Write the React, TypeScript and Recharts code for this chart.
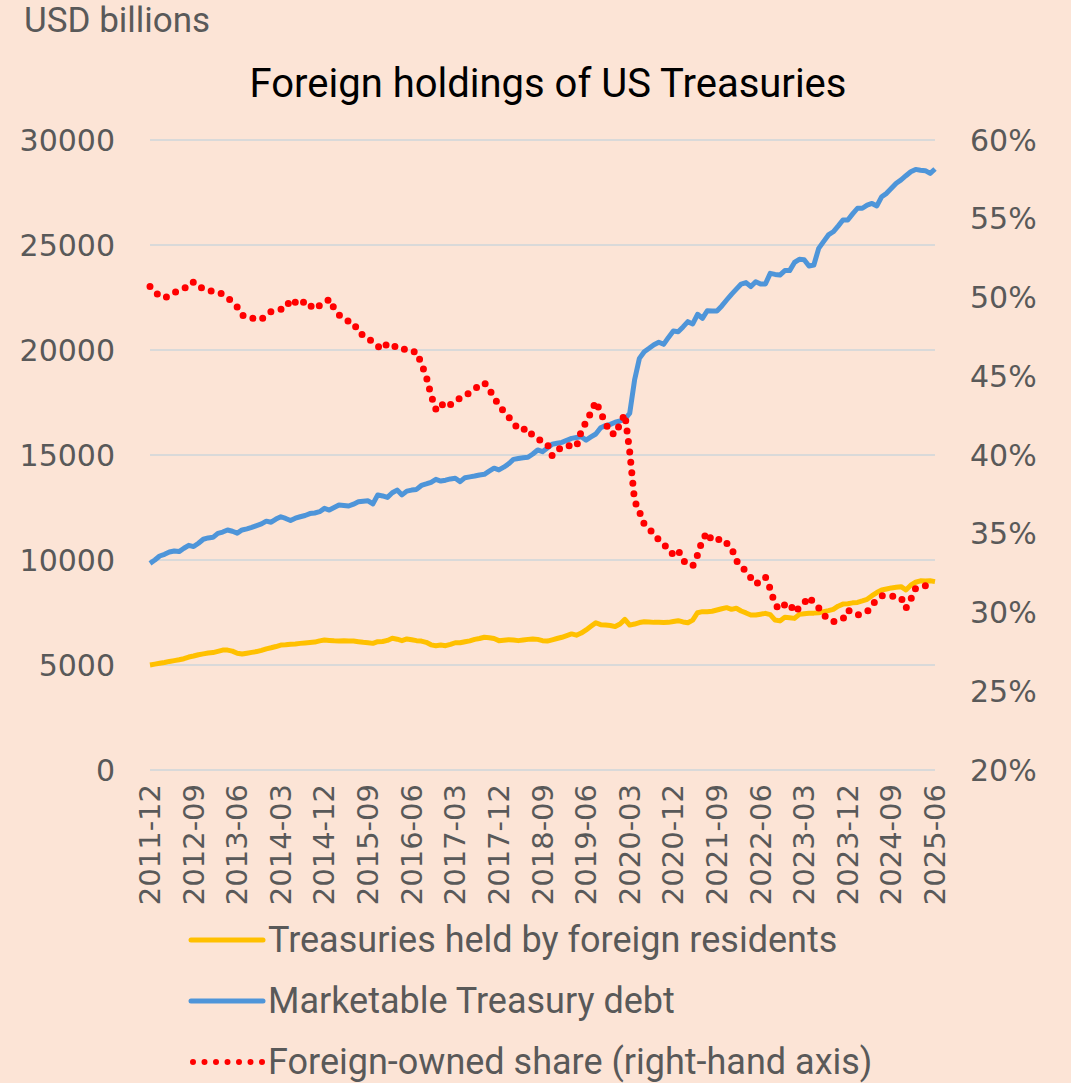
import React from 'react';
import { LineChart, Line, XAxis, YAxis, CartesianGrid, Legend } from 'recharts';

// ---- Data (USD billions, monthly from 2011-12 to 2025-06) ----
const START_YEAR = 2011;
const START_MONTH = 12;

const foreignHeld: number[] = [
  5000,
  5040, 5080, 5120, 5170, 5210, 5250, 5300, 5380, 5430, 5490, 5530, 5570,
  5590, 5650, 5710, 5710, 5660, 5560, 5520, 5560, 5600, 5640, 5700, 5770,
  5820, 5880, 5950, 5960, 5990, 6000, 6030, 6050, 6070, 6090, 6150, 6190,
  6170, 6150, 6140, 6150, 6140, 6140, 6110, 6080, 6060, 6030, 6110, 6120,
  6170, 6270, 6230, 6160, 6240, 6200, 6160, 6140, 6080, 5960, 5920, 5950,
  5920, 5980, 6060, 6060, 6110, 6150, 6220, 6260, 6320, 6300, 6260, 6160,
  6180, 6200, 6190, 6160, 6190, 6220, 6240, 6220, 6160, 6140, 6200, 6260,
  6320, 6400, 6480, 6420, 6520, 6670, 6840, 7010, 6920, 6900, 6880, 6830,
  6950, 7170, 6900, 6950, 7020, 7060, 7050, 7030, 7030, 7020, 7030, 7070,
  7110, 7050, 7010, 7140, 7490, 7540, 7540, 7560, 7620, 7680, 7730, 7650,
  7700, 7570, 7480, 7380, 7380, 7420, 7460, 7400, 7140, 7100, 7270, 7250,
  7220, 7410, 7440, 7460, 7470, 7490, 7540, 7590, 7650, 7800, 7900, 7920,
  7960, 7980, 8050, 8130, 8300, 8450, 8570, 8620, 8670, 8700, 8730, 8570,
  8800, 8940, 9010, 9000, 9010, 8970,
];

const marketableDebt: number[] = [
  9840,
  10000, 10190, 10270, 10380, 10430, 10400, 10560, 10700, 10640, 10800, 10990, 11050,
  11080, 11270, 11330, 11430, 11370, 11280, 11430, 11480, 11550, 11640, 11720, 11850,
  11800, 11950, 12060, 11980, 11880, 11990, 12060, 12120, 12210, 12240, 12300, 12460,
  12380, 12500, 12620, 12600, 12570, 12660, 12770, 12800, 12820, 12670, 13100, 13050,
  12980, 13200, 13330, 13100, 13280, 13330, 13360, 13550, 13620, 13700, 13840, 13760,
  13800, 13860, 13890, 13730, 13920, 13960, 14000, 14050, 14080, 14230, 14370, 14290,
  14420, 14580, 14790, 14830, 14870, 14890, 15050, 15240, 15160, 15330, 15510, 15560,
  15600, 15700, 15790, 15830, 15870, 15710, 15860, 16000, 16300, 16400, 16460, 16560,
  16620, 16700, 16990, 18570, 19600, 19920, 20080, 20250, 20370, 20270, 20600, 20900,
  20870, 21100, 21350, 21240, 21700, 21510, 21870, 21860, 21860, 22100, 22380, 22650,
  22900, 23140, 23210, 23020, 23250, 23140, 23140, 23650, 23600, 23570, 23780, 23780,
  24170, 24320, 24300, 24000, 24050, 24840, 25160, 25480, 25630, 25900, 26190, 26190,
  26480, 26750, 26750, 26900, 26980, 26860, 27300, 27460, 27700, 27940, 28100, 28300,
  28490, 28600, 28560, 28540, 28410, 28620,
];

// Foreign-owned share, percent
const foreignShare: number[] = [
  50.7,
  50.4, 50.05, 50.0, 50.1, 50.3, 50.5, 50.6, 50.65, 51.0, 50.8, 50.5, 50.45,
  50.4, 50.37, 50.2, 50.0, 49.7, 49.4, 48.9, 48.72, 48.7, 48.6, 48.6, 48.9,
  49.1, 49.2, 49.25, 49.3, 49.9, 49.7, 49.5, 49.8, 49.5, 49.25, 49.5, 49.6,
  49.9, 49.3, 48.9, 48.6, 48.5, 48.42, 47.8, 47.6, 47.47, 47.1, 46.9, 46.7,
  47.1, 47.0, 46.8, 46.83, 46.6, 46.54, 46.56, 45.8, 45.0, 43.8, 42.9, 43.3,
  43.0, 43.2, 43.5, 43.6, 43.7, 44.0, 44.2, 44.4, 44.59, 44.2, 43.6, 43.2,
  42.75, 42.4, 42.1, 41.6, 41.62, 41.69, 41.2, 41.0, 40.9, 40.7, 39.96, 40.3,
  40.5, 40.63, 40.55, 40.52, 41.5, 42.1, 42.7, 43.4, 42.7, 42.04, 41.4, 41.3,
  42.0, 42.6, 40.2, 37.1, 36.4, 35.6, 35.3, 35.0, 34.6, 34.4, 33.9, 33.7,
  33.97, 33.3, 33.1, 32.95, 33.65, 34.6, 35.08, 34.54, 34.6, 34.71, 34.4, 34.1,
  33.3, 32.95, 32.6, 32.2, 31.8, 32.0, 32.25, 31.5, 30.5, 30.19, 30.5, 30.6,
  30.0, 30.3, 30.6, 31.0, 30.6, 30.3, 29.85, 29.6, 29.42, 29.5, 29.59, 30.16,
  30.0, 29.84, 29.95, 30.05, 30.5, 30.8, 31.06, 31.05, 31.05, 31.0, 30.95, 30.27,
  30.83, 31.54, 31.6, 31.7, 31.75, 31.8,
];

const tickLabels: string[] = [
  '2011-12', '2012-09', '2013-06', '2014-03', '2014-12', '2015-09', '2016-06',
  '2017-03', '2017-12', '2018-09', '2019-06', '2020-03', '2020-12', '2021-09',
  '2022-06', '2023-03', '2023-12', '2024-09', '2025-06',
];

const leftTicks: number[] = [0, 5000, 10000, 15000, 20000, 25000, 30000];
const rightTicks: number[] = [20, 25, 30, 35, 40, 45, 50, 55, 60];

const seriesNames = {
  held: 'Treasuries held by foreign residents',
  debt: 'Marketable Treasury debt',
  share: 'Foreign-owned share (right-hand axis)',
};

const COLORS = { held: '#FFC000', debt: '#4E95D9', share: '#FF0000' };

const months: string[] = foreignHeld.map((_, i) => {
  const m = START_MONTH - 1 + i;
  const y = START_YEAR + Math.floor(m / 12);
  const mm = (m % 12) + 1;
  return `${y}-${mm < 10 ? '0' + mm : mm}`;
});

const data = months.map((month, i) => ({
  month,
  held: foreignHeld[i],
  debt: marketableDebt[i],
  share: foreignShare[i],
}));

const TEXT_GREY = '#595959';
const TICK_FONT = '"DejaVu Sans", sans-serif';
const LABEL_FONT = 'Roboto, "Open Sans", sans-serif';

const XTick = (props: any) => {
  const { x, y, payload } = props;
  const ty = y + 14;
  return (
    <text
      x={x}
      y={ty}
      transform={`rotate(-90 ${x} ${ty})`}
      textAnchor="end"
      dominantBaseline="central"
      fill={TEXT_GREY}
      fontSize={29}
      fontFamily={TICK_FONT}
    >
      {payload.value}
    </text>
  );
};

const legendItems = [
  { key: 'held', name: seriesNames.held, color: COLORS.held, dotted: false },
  { key: 'debt', name: seriesNames.debt, color: COLORS.debt, dotted: false },
  { key: 'share', name: seriesNames.share, color: COLORS.share, dotted: true },
];

const LegendContent = () => (
  <div style={{ height: 175, paddingLeft: 188, paddingTop: 1, boxSizing: 'border-box' }}>
    {legendItems.map((it) => (
      <div key={it.key} style={{ height: 61, display: 'flex', alignItems: 'center' }}>
        <svg width={78} height={10} style={{ display: 'block' }}>
          {it.dotted ? (
            <line x1={5} y1={5} x2={75} y2={5} stroke={it.color} strokeWidth={6}
              strokeDasharray="0 11.5" strokeLinecap="round" />
          ) : (
            <line x1={3} y1={5} x2={75} y2={5} stroke={it.color} strokeWidth={5}
              strokeLinecap="round" />
          )}
        </svg>
        <span style={{ marginLeft: 2, fontSize: 36, color: TEXT_GREY, fontFamily: LABEL_FONT, lineHeight: '42px' }}>
          {it.name}
        </span>
      </div>
    ))}
  </div>
);

export default function App() {
  return (
    <div style={{ position: 'absolute', left: 0, top: 0, width: 1071, height: 1083, background: '#FCE4D6', overflow: 'hidden' }}>
      <LineChart
        width={1071}
        height={1083}
        data={data}
        margin={{ top: 140, right: 0, left: 0, bottom: 0 }}
      >
        <CartesianGrid yAxisId="left" vertical={false} stroke="#D9D9D9" strokeWidth={2} />
        <XAxis
          dataKey="month"
          ticks={tickLabels}
          interval={0}
          axisLine={false}
          tickLine={false}
          tickSize={0}
          tickMargin={0}
          height={138}
          tick={<XTick />}
        />
        <YAxis
          yAxisId="left"
          orientation="left"
          width={150}
          domain={[0, 30000]}
          ticks={leftTicks}
          axisLine={false}
          tickLine={false}
          tickSize={0}
          tickMargin={35}
          tick={{ fill: TEXT_GREY, fontSize: 30, fontFamily: TICK_FONT }}
        />
        <YAxis
          yAxisId="right"
          orientation="right"
          width={136}
          domain={[20, 60]}
          ticks={rightTicks}
          axisLine={false}
          tickLine={false}
          tickSize={0}
          tickMargin={35}
          tickFormatter={(v: number) => `${v}%`}
          tick={{ fill: TEXT_GREY, fontSize: 30, fontFamily: TICK_FONT, textAnchor: 'start' }}
        />
        <Legend verticalAlign="bottom" layout="horizontal" content={<LegendContent />} />
        <Line yAxisId="left" type="linear" dataKey="held" name={seriesNames.held}
          stroke={COLORS.held} strokeWidth={5} dot={false} isAnimationActive={false} strokeLinejoin="round" />
        <Line yAxisId="left" type="linear" dataKey="debt" name={seriesNames.debt}
          stroke={COLORS.debt} strokeWidth={5} dot={false} isAnimationActive={false} strokeLinejoin="round" />
        <Line yAxisId="right" type="linear" dataKey="share" name={seriesNames.share}
          stroke={COLORS.share} strokeWidth={7} strokeDasharray="0 10.5" strokeLinecap="round"
          dot={false} isAnimationActive={false} />
      </LineChart>
      <svg width={1071} height={130} style={{ position: 'absolute', left: 0, top: 0, pointerEvents: 'none' }}>
        <text x={24} y={32} fill={TEXT_GREY} fontSize={35} fontFamily={LABEL_FONT}>USD billions</text>
        <text x={548} y={97} fill="#000000" fontSize={40} fontFamily={LABEL_FONT} textAnchor="middle">
          Foreign holdings of US Treasuries
        </text>
      </svg>
    </div>
  );
}
